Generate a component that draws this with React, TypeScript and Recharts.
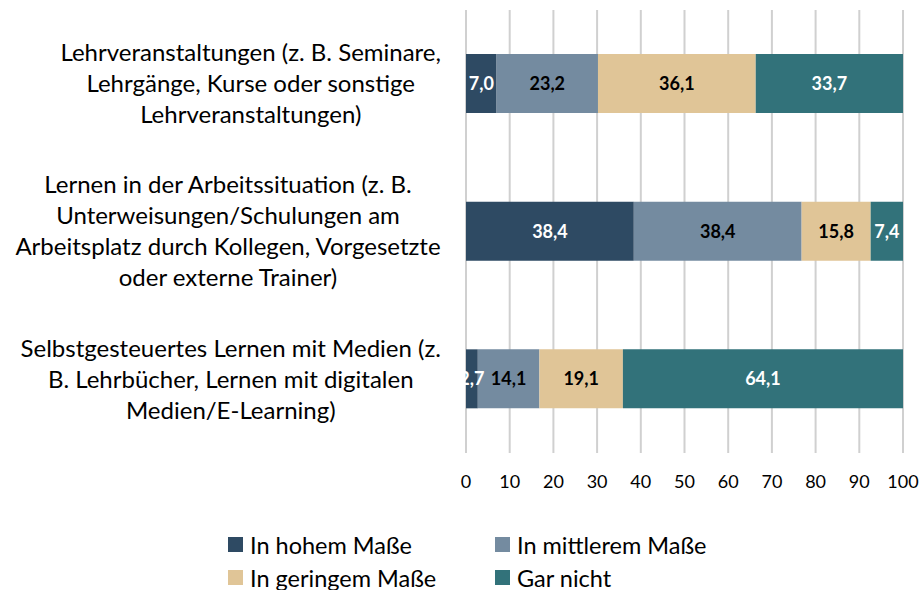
import { BarChart, Bar, XAxis, YAxis, CartesianGrid, Legend, LabelList } from "recharts";

const categoryLines = [
  ["Lehrveranstaltungen (z. B. Seminare,", "Lehrgänge, Kurse oder sonstige", "Lehrveranstaltungen)"],
  [
    "Lernen in der Arbeitssituation (z. B.",
    "Unterweisungen/Schulungen am",
    "Arbeitsplatz durch Kollegen, Vorgesetzte",
    "oder externe Trainer)",
  ],
  ["Selbstgesteuertes Lernen mit Medien (z.", "B. Lehrbücher, Lernen mit digitalen", "Medien/E-Learning)"],
];
const hohem = [7.0, 38.4, 2.7];
const mittlerem = [23.2, 38.4, 14.1];
const geringem = [36.1, 15.8, 19.1];
const garNicht = [33.7, 7.4, 64.1];
const xTicks = [0, 10, 20, 30, 40, 50, 60, 70, 80, 90, 100];

const series = [
  { key: "hohem", name: "In hohem Maße", color: "#2E4A63", text: "#FFFFFF" },
  { key: "mittlerem", name: "In mittlerem Maße", color: "#748BA0", text: "#000000" },
  { key: "geringem", name: "In geringem Maße", color: "#E0C597", text: "#000000" },
  { key: "garNicht", name: "Gar nicht", color: "#32727A", text: "#FFFFFF" },
];

const data = categoryLines.map((lines, i) => ({
  cat: lines.join(" "),
  hohem: hohem[i],
  mittlerem: mittlerem[i],
  geringem: geringem[i],
  garNicht: garNicht[i],
}));

const FONT = "Lato, 'Noto Sans', sans-serif";
const CAT_SIZE = 24;
const LINE_H = 31;

let ctx: CanvasRenderingContext2D | null = null;
const measure = (s: string) => {
  if (!ctx) ctx = document.createElement("canvas").getContext("2d");
  if (!ctx) return s.length * 11;
  ctx.font = `${CAT_SIZE}px Lato`;
  return ctx.measureText(s).width;
};

const CategoryTick = (props: any) => {
  const { x, y, payload } = props;
  const lines = categoryLines[payload.index] || [];
  const maxW = Math.max(...lines.map(measure));
  const cx = x - 25 - maxW / 2;
  const top = y - ((lines.length - 1) * LINE_H) / 2;
  return (
    <text textAnchor="middle" fontFamily={FONT} fontSize={CAT_SIZE} fill="#000">
      {lines.map((l, i) => (
        <tspan key={i} x={cx} y={top + i * LINE_H} dy="0.35em">
          {l}
        </tspan>
      ))}
    </text>
  );
};

const LegendContent = () => (
  <div
    style={{
      display: "grid",
      gridTemplateColumns: "267px 267px",
      rowGap: 8,
      fontFamily: FONT,
      fontSize: 23.5,
      color: "#000",
    }}
  >
    {series.map((s) => (
      <div key={s.key} style={{ display: "flex", alignItems: "center", height: 25 }}>
        <span style={{ width: 15, height: 15, background: s.color, marginRight: 7, display: "inline-block" }} />
        {s.name}
      </div>
    ))}
  </div>
);

const fmt = (v: any) => Number(v).toFixed(1).replace(".", ",");

export default function App() {
  return (
    <div style={{ width: 922, height: 590 }}>
      <style>{"body{margin:0}"}</style>
      <BarChart
        width={922}
        height={590}
        data={data}
        layout="vertical"
        margin={{ top: 10, right: 19, bottom: 39, left: 0 }}
        barSize={59}
      >
        <CartesianGrid horizontal={false} stroke="#D0D0D0" strokeWidth={2} />
        <XAxis
          type="number"
          domain={[0, 100]}
          ticks={xTicks}
          axisLine={false}
          tickLine={false}
          interval={0}
          tick={{ fontFamily: FONT, fontSize: 18, fill: "#000" }}
          tickMargin={16}
          height={40}
        />
        <YAxis
          type="category"
          dataKey="cat"
          width={466}
          axisLine={false}
          tickLine={false}
          tickSize={0}
          tickMargin={0}
          tick={<CategoryTick />}
        />
        <Legend
          content={<LegendContent />}
          wrapperStyle={{ position: "absolute", left: 228, top: 532, width: 560 }}
        />
        {series.map((s) => (
          <Bar key={s.key} dataKey={s.key} name={s.name} stackId="a" fill={s.color} isAnimationActive={false}>
            <LabelList
              dataKey={s.key}
              position="center"
              formatter={fmt}
              fill={s.text}
              fontFamily={FONT}
              fontSize={18}
              fontWeight="bold"
            />
          </Bar>
        ))}
      </BarChart>
    </div>
  );
}
